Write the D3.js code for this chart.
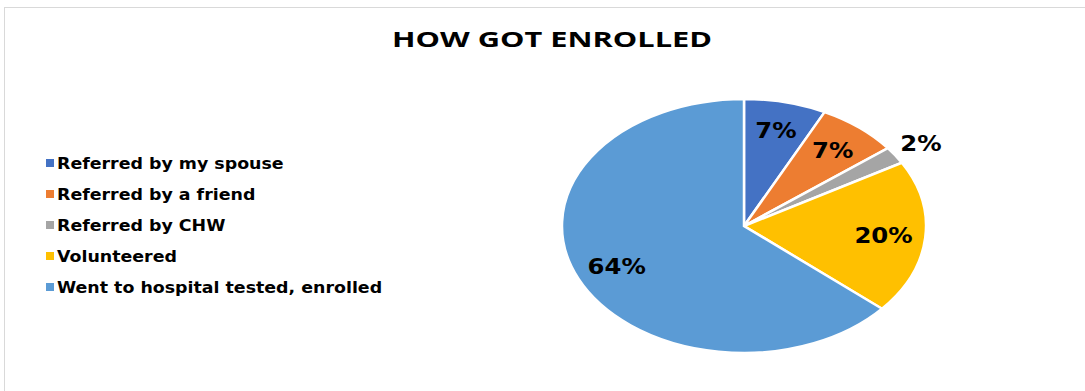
<!DOCTYPE html>
<html>
<head>
<meta charset="utf-8">
<title>How got enrolled</title>
<script src="https://cdn.jsdelivr.net/npm/d3@7"></script>
<style>
  body { margin: 0; background: #fff; }
  svg { display: block; }
  .title { font-family: "Open Sans", "Liberation Sans", sans-serif; font-weight: 700; font-size: 22px; fill: #000; }
  .legend text { font-family: "DejaVu Sans", Verdana, sans-serif; font-weight: 700; font-size: 15px; fill: #000; }
  .pct { font-family: "DejaVu Sans", sans-serif; font-weight: 700; font-size: 21px; fill: #000; }
</style>
</head>
<body>
<div id="chart"></div>
<script>
  // data
  var categories = ["Referred by my spouse", "Referred by a friend", "Referred by CHW", "Volunteered", "Went to hospital tested, enrolled"];
  var shares = [7.3, 7.2, 2.2, 19.6, 63.7];
  var colours = ["#4472C4", "#ED7D31", "#A5A5A5", "#FFC000", "#5B9BD5"];

  var width = 1085, height = 391;
  // the whole picture is stretched sideways, text included
  var stretch = 1.16;

  var svg = d3.select("#chart").append("svg")
      .attr("width", width)
      .attr("height", height);

  // chart frame (only top and left edges show in the crop)
  svg.append("rect")
      .attr("x", 4.5).attr("y", 7.5)
      .attr("width", width + 10).attr("height", height + 10)
      .attr("fill", "#fff")
      .attr("stroke", "#d9d9d9");

  svg.append("text")
      .attr("class", "title")
      .attr("x", 392).attr("y", 47)
      .attr("textLength", 320)
      .attr("lengthAdjust", "spacingAndGlyphs")
      .text("HOW GOT ENROLLED");

  // legend
  var legend = svg.append("g").attr("class", "legend");
  var rows = legend.selectAll("g")
      .data(categories)
      .enter().append("g")
      .attr("transform", function(d, i) { return "translate(46," + (163 + i * 31) + ")"; });
  rows.append("rect")
      .attr("x", 0).attr("y", -4)
      .attr("width", 8).attr("height", 8)
      .attr("fill", function(d, i) { return colours[i]; });
  rows.append("text")
      .attr("transform", "translate(11,5.5) scale(" + stretch + ",1)")
      .text(function(d) { return d; });

  // pie drawn as an ellipse to match the stretch
  var cx = 744, cy = 226, ry = 127, rx = 182, sx = rx / ry;

  var pie = d3.pie().sort(null).value(function(d) { return d; });
  var arcs = pie(shares);

  var arc = d3.arc().innerRadius(0).outerRadius(ry);
  var labelArc = d3.arc().innerRadius(ry * 0.77).outerRadius(ry * 0.77);
  var outerLabelArc = d3.arc().innerRadius(ry * 1.17).outerRadius(ry * 1.17);

  var pieG = svg.append("g")
      .attr("transform", "translate(" + cx + "," + cy + ") scale(" + sx + ",1)");

  pieG.selectAll("path")
      .data(arcs)
      .enter().append("path")
      .attr("d", arc)
      .attr("fill", function(d, i) { return colours[i]; })
      .attr("stroke", "#fff")
      .attr("stroke-width", 2.5)
      .attr("vector-effect", "non-scaling-stroke");

  var fmt = d3.format(".0f");
  svg.append("g").selectAll("text")
      .data(arcs)
      .enter().append("text")
      .attr("class", "pct")
      .attr("text-anchor", "middle")
      .attr("dy", "0.36em")
      .attr("transform", function(d) {
        var c = (d.data < 5 ? outerLabelArc : labelArc).centroid(d);
        return "translate(" + (cx + c[0] * sx) + "," + (cy + c[1]) + ") scale(" + stretch + ",1)";
      })
      .text(function(d) { return fmt(d.data) + "%"; });
</script>
</body>
</html>
